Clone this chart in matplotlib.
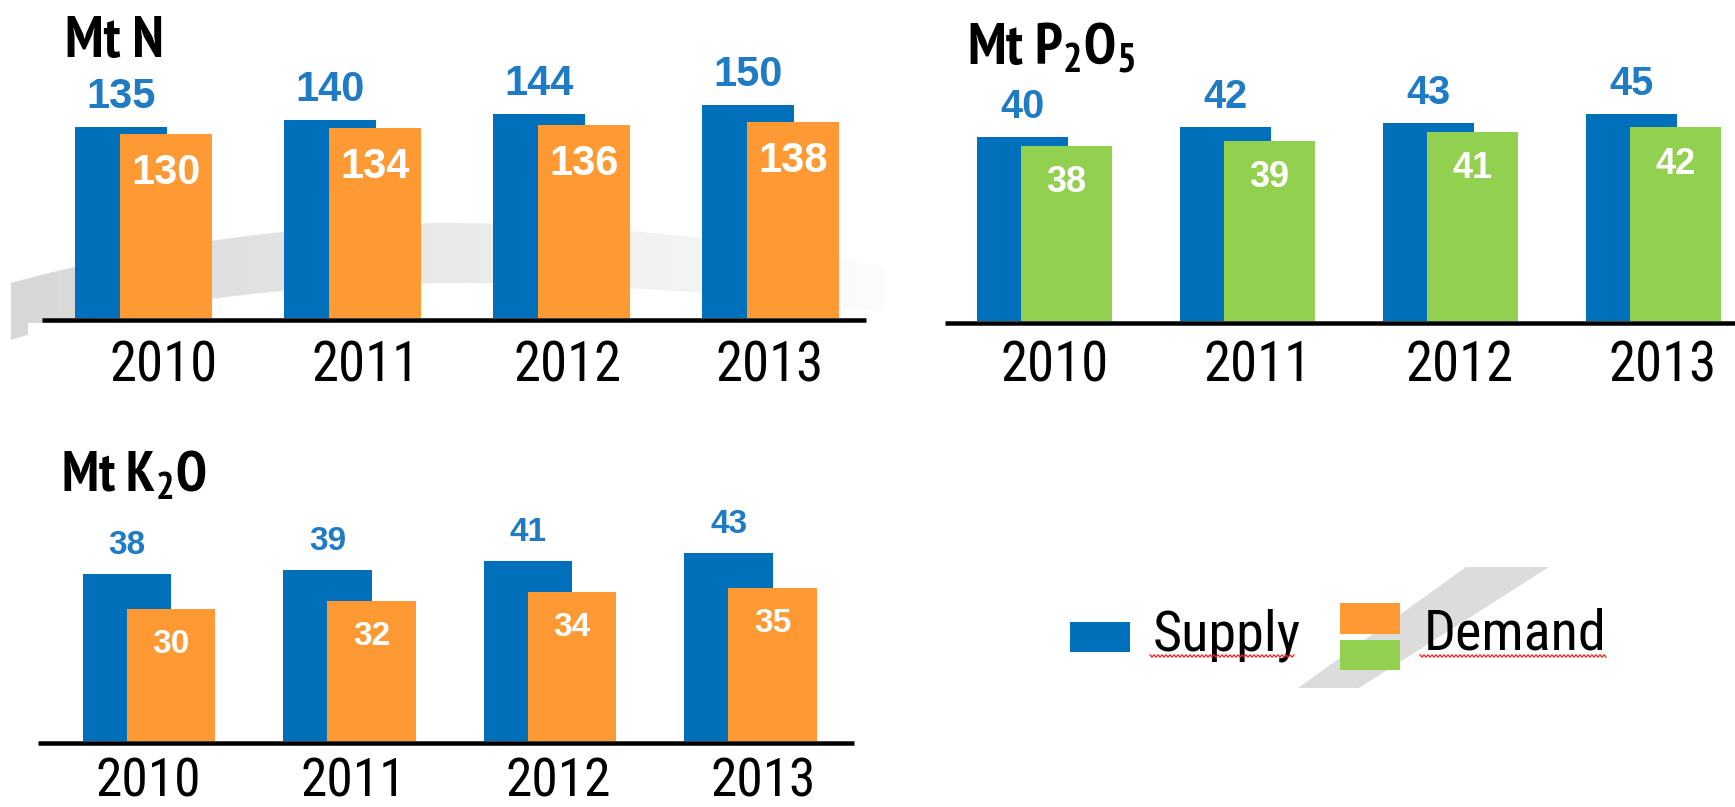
import matplotlib
matplotlib.use('Agg')
import matplotlib.pyplot as plt
from matplotlib import font_manager
from matplotlib.font_manager import FontProperties, fontManager
from matplotlib.textpath import TextPath
from matplotlib.patches import Rectangle, PathPatch, Polygon
from matplotlib.path import Path
import numpy as np

# ---------------- data ----------------
years = ['2010', '2011', '2012', '2013']
n_supply = [135, 140, 144, 150]
n_demand = [130, 134, 136, 138]
p_supply = [40, 42, 43, 45]
p_demand = [38, 39, 41, 42]
k_supply = [38, 39, 41, 43]
k_demand = [30, 32, 34, 35]
legend_labels = ['Supply', 'Demand']
titles = ['Mt N', r'Mt P$_2$O$_5$', r'Mt K$_2$O']

# ---------------- style ----------------
BLUE = '#0070BA'
ORANGE = '#FF9933'
GREEN = '#92D050'
LABEL_BLUE = '#1E7BC4'
BOLD_FONT = 'Liberation Sans'

CANDS = ['Arial Narrow', 'Liberation Sans Narrow', 'Roboto Condensed', 'PT Sans Narrow',
         'Archivo Narrow', 'IBM Plex Sans Condensed', 'Fira Sans Condensed',
         'Encode Sans Condensed', 'Asap Condensed', 'Barlow Semi Condensed',
         'Sofia Sans Condensed', 'Pragati Narrow', 'Roboto', 'Liberation Sans']


def wnum(f):
    w = f.weight
    if isinstance(w, str):
        w = font_manager.weight_dict.get(w.lower(), 400)
    return int(w)


def font_file(name, bold):
    for f in fontManager.ttflist:
        if f.name == name and f.style == 'normal':
            w = wnum(f)
            if (bold and 650 <= w <= 750) or (not bold and 380 <= w <= 420):
                return f.fname
    return None


def ink(fname, s):
    e = TextPath((0, 0), s, size=100, prop=FontProperties(fname=fname)).get_extents()
    return e.width / 100.0, e.height / 100.0


def pick(bold, sample, ratio):
    found = []
    for name in CANDS:
        fn = font_file(name, bold)
        if fn:
            try:
                w, h = ink(fn, sample)
            except Exception:
                continue
            err = abs(w / h - ratio) / ratio
            if err < 0.07:
                return fn
            found.append((err, fn))
    if found:
        return min(found)[1]
    return font_manager.findfont(FontProperties(family='DejaVu Sans',
                                                weight='bold' if bold else 'normal'))


def sized(fname, sample, px):
    w, h = ink(fname, sample)
    return FontProperties(fname=fname, size=px / h * 0.72)


REG_FILE = pick(False, '2010', 101 / 40.0)
BOLD_FILE = pick(True, 'Mt N', 95.5 / 41.7)

plt.rcParams['mathtext.fontset'] = 'custom'
plt.rcParams['mathtext.default'] = 'regular'

W, H = 1735, 807
PT = 0.72  # points per pixel at dpi 100
fig = plt.figure(figsize=(W / 100, H / 100), dpi=100)
fig.patch.set_facecolor('white')

# background decoration axes in pixel coordinates
bg = fig.add_axes([0, 0, 1, 1], zorder=0)
bg.axis('off')

# grey swoosh behind first panel
M, C, L, Z = Path.MOVETO, Path.CURVE4, Path.LINETO, Path.CLOSEPOLY
verts = [(11, 283), (150, 245), (300, 223), (449, 223), (600, 223), (780, 243), (885, 268),
         (885, 312), (780, 296), (600, 283), (449, 283), (300, 283), (120, 305), (11, 340), (11, 283)]
codes = [M, C, C, C, C, C, C, L, C, C, C, C, C, C, Z]
arc = PathPatch(Path(verts, codes), facecolor='none', edgecolor='none')
bg.add_patch(arc)
grad = np.linspace(0.84, 0.985, 256).reshape(1, -1)
im = bg.imshow(grad, cmap='gray', vmin=0, vmax=1, extent=(11, 885, 352, 220),
               aspect='auto', zorder=1, interpolation='bilinear')
im.set_clip_path(arc)
bg.add_patch(Rectangle((28, 323), 860, 100, facecolor='white', edgecolor='none', zorder=2))

# grey slash behind legend
bg.add_patch(Polygon([(1298, 688), (1359, 688), (1549, 567), (1466, 567)],
                     closed=True, facecolor='#dcdcdc', edgecolor='none', zorder=1))

year_fp = sized(REG_FILE, '2010', 40)
year_fp_k = sized(REG_FILE, '2010', 39)


def panel(supply, demand, dcolor, left, right, base, c0, spacing, ppu, width, offset,
          sup_size, dem_size, gap, lab_c0, lab_sp, lab_base, lab_fp):
    top = base - 300
    ax = fig.add_axes([left / W, 1 - base / H, (right - left) / W, (base - top) / H], zorder=2)
    ax.patch.set_alpha(0)
    ax.set_xlim((left - c0) / spacing, (right - c0) / spacing)
    ax.set_ylim(0, (base - top) / ppu)
    x = np.arange(len(years))
    w = width / spacing
    off = offset / spacing / 2
    bs = ax.bar(x - off, supply, w, color=BLUE, zorder=2)
    bd = ax.bar(x + off, demand, w, color=dcolor, zorder=3)
    for rect, v in zip(bs, supply):
        ax.annotate(str(v), (rect.get_x() + rect.get_width() / 2, v), xytext=(0, gap * PT),
                    textcoords='offset points', ha='center', va='baseline', color=LABEL_BLUE,
                    fontsize=sup_size, fontweight='bold', family=BOLD_FONT, zorder=5)
    for rect, v in zip(bd, demand):
        ax.annotate(str(v), (rect.get_x() + rect.get_width() / 2, v), xytext=(0, -gap * PT),
                    textcoords='offset points', ha='center', va='top', color='white',
                    fontsize=dem_size, fontweight='bold', family=BOLD_FONT, zorder=5)
    for s in ['top', 'left', 'right']:
        ax.spines[s].set_visible(False)
    sp = ax.spines['bottom']
    sp.set_linewidth(4.5 * PT)
    sp.set_color('black')
    sp.set_position(('outward', 2.5 * PT))
    sp.set_capstyle('butt')
    ax.set_yticks([])
    ticks = (lab_c0 + x * lab_sp - c0) / spacing
    ax.set_xticks(ticks)
    ax.set_xticklabels(years, fontproperties=lab_fp, color='black')
    plt.setp(ax.get_xticklabels(), va='baseline')
    ax.tick_params(axis='x', length=0, pad=(lab_base - base - 2.5) * PT)
    return ax


panel(n_supply, n_demand, ORANGE, 42, 866, 318, 143.4, 209, 1.417, 92.6, 45, 30, 30, 19,
      164, 201.8, 381.7, year_fp)
panel(p_supply, p_demand, GREEN, 945, 1735, 320.7, 1044.5, 203, 4.6, 90.5, 44.2, 28.5, 26, 19,
      1054.4, 202.8, 381.7, year_fp)
panel(k_supply, k_demand, ORANGE, 38, 854, 740.7, 148.85, 200.6, 4.375, 88.5, 44, 24, 24, 20,
      148.3, 204.8, 796.5, year_fp_k)

# titles
title_fp = sized(BOLD_FILE, 'Mt N', 41.7)
title_fp_k = sized(BOLD_FILE, 'Mt N', 40)
fig.text(64.5 / W, 1 - 56.7 / H, titles[0], fontproperties=title_fp, ha='left', va='baseline')
fig.text(966.6 / W, 1 - 65 / H, titles[1], fontproperties=title_fp, ha='left', va='baseline')
fig.text(60.7 / W, 1 - 491.7 / H, titles[2], fontproperties=title_fp_k, ha='left', va='baseline')

# legend
leg_fp = sized(REG_FILE, 'D', 40)
bg.add_patch(Rectangle((1069.5, 621.7), 60.5, 30.6, facecolor=BLUE, edgecolor='none', zorder=3))
bg.add_patch(Rectangle((1340, 603.3), 59.5, 30.5, facecolor=ORANGE, edgecolor='none', zorder=3))
bg.add_patch(Rectangle((1340, 640), 59.5, 30, facecolor=GREEN, edgecolor='none', zorder=3))
bg.text(1152.5, 650, legend_labels[0], fontproperties=leg_fp, ha='left', va='baseline', zorder=4)
bg.text(1423.8, 650, legend_labels[1], fontproperties=leg_fp, ha='left', va='baseline', zorder=4)
# spell-check squiggles under legend words
for x0, x1 in [(1150, 1295), (1420, 1607)]:
    xs = np.arange(x0, x1 + 1, 2.0)
    ys = 656 + np.where(np.arange(len(xs)) % 2 == 0, -1.2, 1.2)
    bg.plot(xs, ys, color='#ff2020', lw=0.9, zorder=4)

bg.set_xlim(0, W)
bg.set_ylim(H, 0)

fig.savefig('out.png', dpi=100, facecolor='white')
